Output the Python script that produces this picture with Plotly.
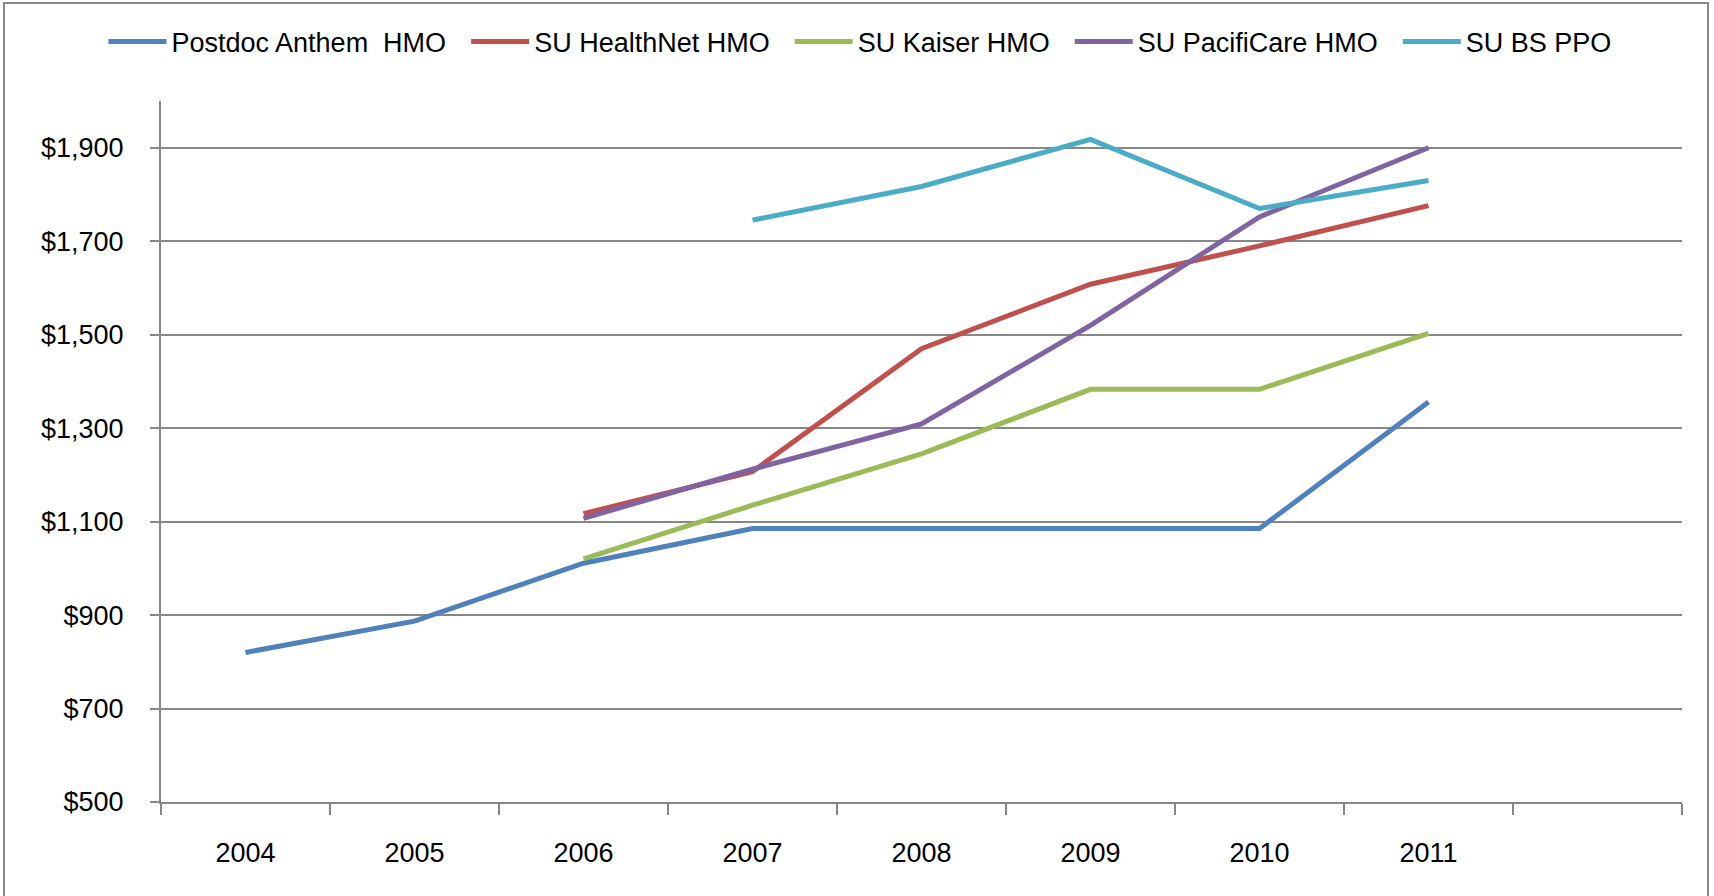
import plotly.graph_objects as go

years = ["2004", "2005", "2006", "2007", "2008", "2009", "2010", "2011"]
axis_categories = years + [" "]

postdoc_anthem = [820, 887, 1011, 1085, 1085, 1085, 1085, 1356]
su_healthnet = [None, None, 1117, 1207, 1470, 1608, 1690, 1776]
su_kaiser = [None, None, 1020, 1135, 1245, 1383, 1383, 1503]
su_pacificare = [None, None, 1107, 1212, 1309, 1520, 1752, 1900]
su_bs_ppo = [None, None, None, 1745, 1817, 1918, 1770, 1830]

series_names = ["Postdoc Anthem\u00a0 HMO", "SU HealthNet HMO", "SU Kaiser HMO",
                "SU PacifiCare HMO", "SU BS PPO"]
series_values = [postdoc_anthem, su_healthnet, su_kaiser, su_pacificare, su_bs_ppo]
colors = ["#4F81BD", "#C0504D", "#9BBB59", "#8064A2", "#4BACC6"]

y_tickvals = [500, 700, 900, 1100, 1300, 1500, 1700, 1900]
y_ticktext = ["$500", "$700", "$900", "$1,100", "$1,300", "$1,500", "$1,700", "$1,900"]

FONT = "Liberation Sans, Arial, sans-serif"
GRID = "#878787"

fig = go.Figure()
for i, (name, vals, col) in enumerate(zip(series_names, series_values, colors)):
    pad = "\u00a0\u00a0" if i < len(series_names) - 1 else ""
    fig.add_trace(go.Scatter(
        x=years, y=vals, mode="lines", name=name + pad,
        line=dict(color=col, width=5), connectgaps=False,
    ))
# placeholder for the empty category at the right end
fig.add_trace(go.Scatter(x=[" "], y=[None], mode="lines", showlegend=False,
                         hoverinfo="skip"))

L, R, T, B = 161, 1682, 101, 802
W, H = 1714, 896

def px_x(p):
    return (p - L) / (R - L)

def px_y(p):
    return (B - p) / (B - T)

fig.update_layout(
    width=W, height=H,
    margin=dict(l=L, r=W - R, t=T, b=H - B, pad=0),
    paper_bgcolor="white", plot_bgcolor="white",
    font=dict(family=FONT, size=27, color="black"),
    showlegend=True,
    legend=dict(orientation="h", x=px_x(860), xanchor="center",
                y=px_y(42), yanchor="middle", font=dict(size=27),
                bgcolor="rgba(0,0,0,0)", itemwidth=58, tracegroupgap=0),
    xaxis=dict(type="category", categoryorder="array", categoryarray=axis_categories,
               range=[-0.5, 8.5], showline=True, linecolor=GRID, linewidth=2,
               ticks="outside", tickson="boundaries", ticklen=11, tickcolor=GRID,
               tickwidth=2, showgrid=False, zeroline=False,
               ticklabelstandoff=26, tickfont=dict(size=27)),
    yaxis=dict(range=[500, 2000], tickvals=y_tickvals, ticktext=y_ticktext,
               showline=True, linecolor=GRID, linewidth=2,
               ticks="outside", ticklen=9, tickcolor=GRID, tickwidth=2,
               showgrid=True, gridcolor=GRID, gridwidth=2, zeroline=False,
               ticklabelstandoff=21, tickfont=dict(size=27)),
    shapes=[dict(type="rect", xref="paper", yref="paper",
                 x0=px_x(4), x1=px_x(1708), y0=px_y(900), y1=px_y(3),
                 line=dict(color="#878787", width=2), fillcolor="rgba(0,0,0,0)",
                 layer="below")],
)

fig.write_html("out.html", config={"displayModeBar": False},
               post_script="document.body.style.margin='0';document.body.style.overflow='hidden';")
